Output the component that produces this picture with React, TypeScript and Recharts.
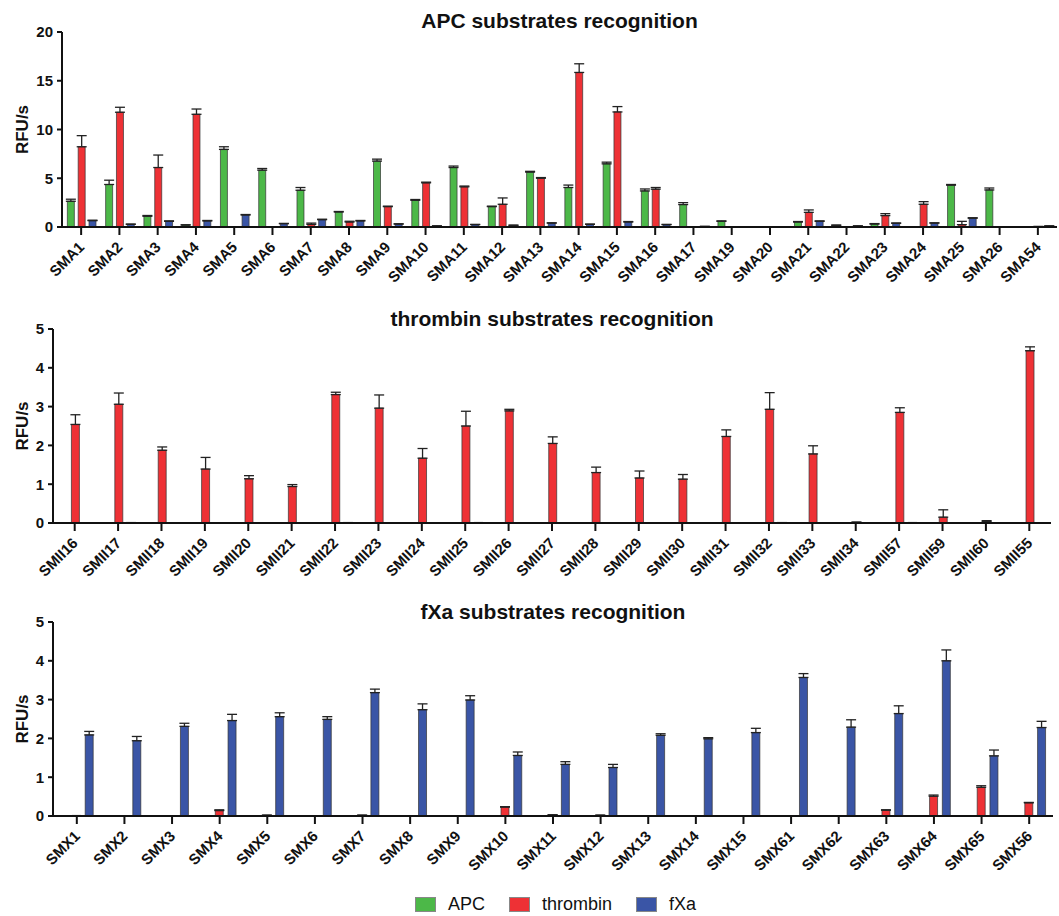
import React from 'react';
import { BarChart, Bar, XAxis, YAxis, ErrorBar, Label } from 'recharts';

// ---------- APC chart ----------
const apcCategories = ['SMA1','SMA2','SMA3','SMA4','SMA5','SMA6','SMA7','SMA8','SMA9','SMA10','SMA11','SMA12','SMA13','SMA14','SMA15','SMA16','SMA17','SMA19','SMA20','SMA21','SMA22','SMA23','SMA24','SMA25','SMA26','SMA54'];
const apcAPC = [2.64,4.36,1.1,0.2,7.96,5.83,3.77,1.54,6.76,2.74,6.1,2.09,5.63,4.05,6.48,3.7,2.3,0.58,0.02,0.51,0.17,0.3,0.02,4.29,3.8,0.02];
const apcAPCErr = [0.21,0.44,0.08,0.03,0.27,0.17,0.28,0.05,0.2,0.08,0.15,0.05,0.08,0.25,0.17,0.2,0.2,0.05,0,0.05,0.03,0.05,0,0.07,0.2,0];
const apcThrombin = [8.23,11.77,6.1,11.56,0,0,0.27,0.51,2.09,4.53,4.12,2.33,5.0,15.85,11.8,3.88,0,0,0,1.5,0,1.17,2.33,0.24,0,0.05];
const apcThrombinErr = [1.14,0.51,1.28,0.54,0,0,0.13,0.08,0.05,0.07,0.08,0.65,0.07,0.89,0.55,0.17,0,0,0,0.25,0,0.2,0.27,0.34,0,0];
const apcFXa = [0.65,0.27,0.58,0.62,1.23,0.34,0.75,0.62,0.3,0.1,0.24,0.17,0.4,0.27,0.51,0.24,0.05,0.03,0.03,0.58,0.1,0.38,0.4,0.9,0.03,0.1];
const apcFXaErr = [0.05,0.03,0.05,0.05,0.05,0.03,0.05,0.05,0.03,0.02,0.03,0.02,0.03,0.03,0.05,0.03,0.02,0,0,0.05,0.02,0.03,0.03,0.05,0,0.02];
const apcTicks = [0, 5, 10, 15, 20];

// ---------- thrombin chart ----------
const thrCategories = ['SMII16','SMII17','SMII18','SMII19','SMII20','SMII21','SMII22','SMII23','SMII24','SMII25','SMII26','SMII27','SMII28','SMII29','SMII30','SMII31','SMII32','SMII33','SMII34','SMII57','SMII59','SMII60','SMII55'];
const thrAPC = [0,0,0,0,0,0,0,0,0,0,0,0,0,0,0,0,0,0,0,0,0,0,0];
const thrAPCErr = [0,0,0,0,0,0,0,0,0,0,0,0,0,0,0,0,0,0,0,0,0,0,0];
const thrThrombin = [2.54,3.06,1.875,1.39,1.14,0.94,3.31,2.96,1.67,2.5,2.89,2.05,1.3,1.16,1.13,2.23,2.93,1.78,0.02,2.85,0.15,0.04,4.44];
const thrThrombinErr = [0.25,0.29,0.085,0.3,0.08,0.05,0.06,0.34,0.25,0.38,0.04,0.17,0.14,0.18,0.12,0.17,0.43,0.21,0,0.12,0.19,0.02,0.1];
const thrFXa = [0,0.01,0,0,0,0,0.01,0,0,0.01,0,0,0,0,0,0,0.01,0,0,0.01,0,0,0];
const thrFXaErr = [0,0,0,0,0,0,0,0,0,0,0,0,0,0,0,0,0,0,0,0,0,0,0];
const thrTicks = [0, 1, 2, 3, 4, 5];

// ---------- fXa chart ----------
const fxaCategories = ['SMX1','SMX2','SMX3','SMX4','SMX5','SMX6','SMX7','SMX8','SMX9','SMX10','SMX11','SMX12','SMX13','SMX14','SMX15','SMX61','SMX62','SMX63','SMX64','SMX65','SMX56'];
const fxaAPC = [0,0,0,0,0,0,0,0,0,0,0,0,0,0,0,0,0,0,0,0,0];
const fxaAPCErr = [0,0,0,0,0,0,0,0,0,0,0,0,0,0,0,0,0,0,0,0,0];
const fxaThrombin = [0.01,0,0,0.14,0.02,0,0.02,0,0,0.23,0.03,0.02,0,0,0,0,0,0.15,0.51,0.74,0.34];
const fxaThrombinErr = [0,0,0,0.02,0,0,0,0,0,0.01,0,0,0,0,0,0,0,0.01,0.03,0.04,0.01];
const fxaFXa = [2.09,1.94,2.31,2.46,2.56,2.49,3.18,2.74,2.99,1.56,1.33,1.25,2.08,1.99,2.15,3.57,2.29,2.64,4.0,1.55,2.28];
const fxaFXaErr = [0.09,0.11,0.08,0.16,0.1,0.07,0.09,0.15,0.11,0.09,0.07,0.08,0.04,0.03,0.11,0.1,0.19,0.2,0.28,0.15,0.16];
const fxaTicks = [0, 1, 2, 3, 4, 5];

const seriesNames = ['APC', 'thrombin', 'fXa'];
const COLORS = ['#4cb848', '#ee3135', '#3a55a6'];
const FONT = '"Liberation Sans", Arial, Helvetica, sans-serif';
const INK = '#111';
const XAXIS_H = 63;

function buildRows(cats: string[], a: number[], ae: number[], t: number[], te: number[], f: number[], fe: number[]) {
  return cats.map((name, i) => ({
    name,
    apc: a[i], thr: t[i], fxa: f[i],
    apcE: [0, ae[i]], thrE: [0, te[i]], fxaE: [0, fe[i]],
  }));
}

const apcRows = buildRows(apcCategories, apcAPC, apcAPCErr, apcThrombin, apcThrombinErr, apcFXa, apcFXaErr);
const thrRows = buildRows(thrCategories, thrAPC, thrAPCErr, thrThrombin, thrThrombinErr, thrFXa, thrFXaErr);
const fxaRows = buildRows(fxaCategories, fxaAPC, fxaAPCErr, fxaThrombin, fxaThrombinErr, fxaFXa, fxaFXaErr);

function renderXTick(props: any, axisY: number) {
  const { x, payload } = props;
  const ax = x + 4;
  const ay = axisY + 21;
  return (
    <g>
      <line x1={x} x2={x} y1={axisY} y2={axisY + 8} stroke={INK} strokeWidth={2} />
      <text x={ax} y={ay} transform={`rotate(-45 ${ax} ${ay})`} textAnchor="end"
        fontFamily={FONT} fontSize={15} fontWeight="bold" fill={INK}>
        {payload.value}
      </text>
    </g>
  );
}

const YLabel = (props: any) => {
  const vb = props.viewBox || {};
  const cx = 22;
  const cy = (vb.y || 0) + (vb.height || 0) / 2;
  return (
    <text x={cx} y={cy} transform={`rotate(-90 ${cx} ${cy})`} textAnchor="middle" dominantBaseline="central"
      fontFamily={FONT} fontSize={17} fontWeight="bold" fill={INK}>
      RFU/s
    </text>
  );
};

type PanelProps = {
  rows: any[];
  ticks: number[];
  max: number;
  width: number;
  height: number;
  top: number;
  marginTop: number;
  yWidth: number;
  right: number;
};

function Panel({ rows, ticks, max, width, height, top, marginTop, yWidth, right }: PanelProps) {
  const keys = ['apc', 'thr', 'fxa'];
  const errKeys = ['apcE', 'thrE', 'fxaE'];
  const axisY = height - XAXIS_H;
  return (
    <div style={{ position: 'absolute', left: 0, top, width, height }}>
      <BarChart width={width} height={height} data={rows}
        margin={{ top: marginTop, right, left: 0, bottom: 0 }}
        barCategoryGap="14%" barGap="10%">
        <XAxis dataKey="name" interval={0} height={XAXIS_H} tick={(p: any) => renderXTick(p, axisY)}
          axisLine={{ stroke: INK, strokeWidth: 2 }} tickLine={false} />
        <YAxis domain={[0, max]} ticks={ticks} width={yWidth} interval={0}
          axisLine={{ stroke: INK, strokeWidth: 2 }} tickLine={{ stroke: INK, strokeWidth: 2 }} tickSize={5} tickMargin={4}
          tick={{ fill: INK, fontSize: 15, fontWeight: 'bold', fontFamily: FONT }}
          allowDataOverflow>
          <Label content={<YLabel />} />
        </YAxis>
        {keys.map((k, i) => (
          <Bar key={k} dataKey={k} name={seriesNames[i]} fill={COLORS[i]} stroke="#333" strokeWidth={0.7}
            isAnimationActive={false}>
            <ErrorBar dataKey={errKeys[i]} width={5} stroke="#222" strokeWidth={1.3} direction="y" />
          </Bar>
        ))}
      </BarChart>
    </div>
  );
}

const titleStyle: React.CSSProperties = {
  position: 'absolute', fontFamily: FONT, fontWeight: 'bold', fontSize: 21, lineHeight: '21px',
  textAlign: 'center', color: INK, whiteSpace: 'nowrap',
};

export default function App() {
  return (
    <div style={{ position: 'absolute', left: 0, top: 0, width: 1059, height: 916, overflow: 'hidden', background: '#fff' }}>
      <div style={{ ...titleStyle, left: 62, width: 995, top: 10 }}>APC substrates recognition</div>
      <div style={{ ...titleStyle, left: 53, width: 998, top: 307.5 }}>thrombin substrates recognition</div>
      <div style={{ ...titleStyle, left: 53, width: 1000, top: 601 }}>fXa substrates recognition</div>

      <Panel rows={apcRows} ticks={apcTicks} max={20} width={1059} height={290} top={0} marginTop={32} yWidth={62} right={2} />
      <Panel rows={thrRows} ticks={thrTicks} max={5} width={1059} height={296} top={290} marginTop={39} yWidth={53} right={8} />
      <Panel rows={fxaRows} ticks={fxaTicks} max={5} width={1059} height={299} top={580} marginTop={42} yWidth={53} right={6} />

      <div style={{ position: 'absolute', left: 415, top: 895, display: 'flex', alignItems: 'center', fontFamily: FONT, fontSize: 18, color: INK }}>
        {seriesNames.map((n, i) => (
          <div key={n} style={{ display: 'flex', alignItems: 'center', marginRight: 24 }}>
            <div style={{ width: 21, height: 15, background: COLORS[i], border: '1px solid #888', boxSizing: 'border-box', marginRight: 12 }} />
            <span style={{ lineHeight: '18px' }}>{n}</span>
          </div>
        ))}
      </div>
    </div>
  );
}
